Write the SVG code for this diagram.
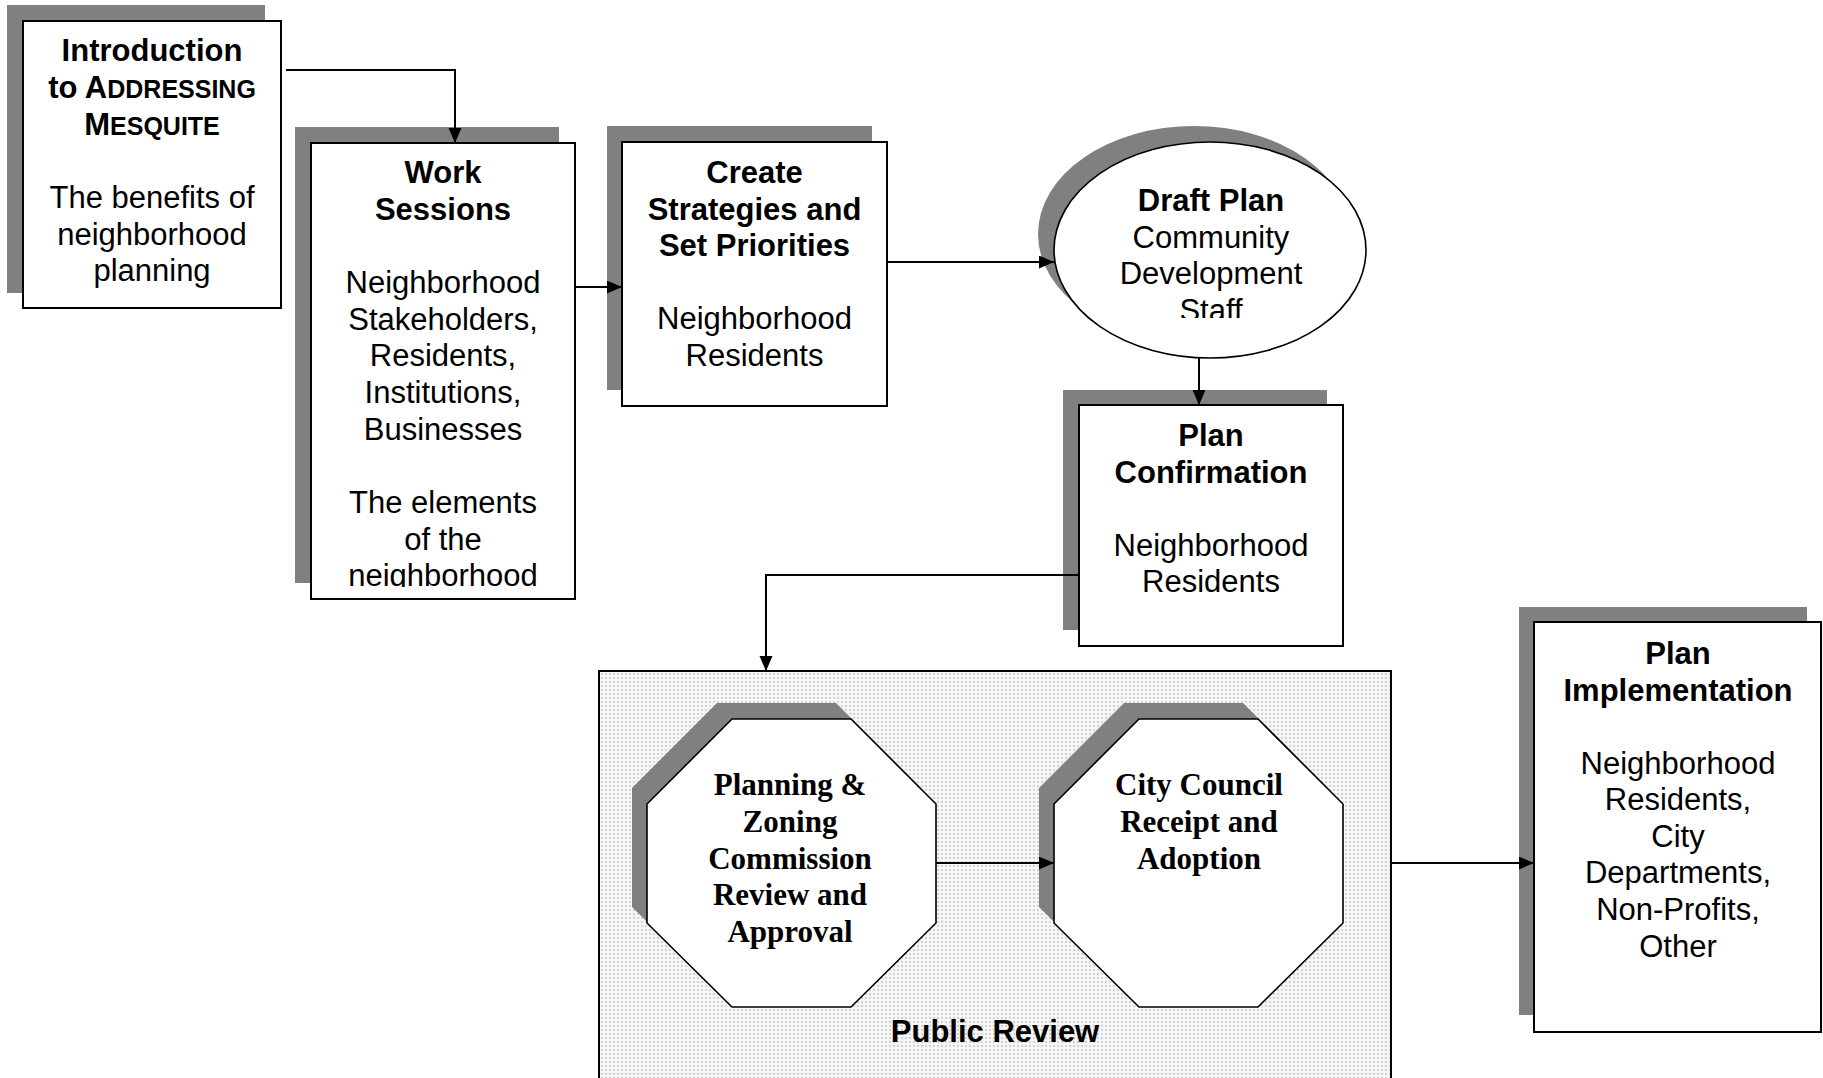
<svg xmlns="http://www.w3.org/2000/svg" width="1823" height="1078" viewBox="0 0 1823 1078">
<style>
.sh{fill:#808080;stroke:none}
.bx{fill:#fff;stroke:#000;stroke-width:2}
.el{fill:#fff;stroke:#000;stroke-width:1.6}
.t{font-family:"Liberation Sans",Arial,sans-serif;font-size:31px;text-anchor:middle;fill:#000}
.b{font-weight:bold}
.sm{font-size:25px}
.s{font-family:"Liberation Serif","Times New Roman",serif;font-weight:bold;font-size:31px;text-anchor:middle;fill:#000}
.c{fill:none;stroke:#000;stroke-width:2}
</style>
<defs>
<marker id="ah" markerUnits="userSpaceOnUse" markerWidth="16" markerHeight="14" refX="15" refY="6.5" orient="auto">
<path d="M0,0 L15,6.5 L0,13 z" fill="#000"/>
</marker>
<pattern id="dots" width="4" height="4" patternUnits="userSpaceOnUse">
<rect width="4" height="4" fill="#f6f6f6"/>
<rect x="1" y="1" width="2" height="2" fill="#d2d2d2"/>
</pattern>
<clipPath id="cpWork"><rect x="311" y="143" width="264" height="444"/></clipPath>
<clipPath id="cpDraft"><rect x="1040" y="140" width="340" height="178"/></clipPath>
</defs>

<g id="public-review">
<rect x="599" y="671" width="792" height="500" fill="url(#dots)" stroke="#000" stroke-width="2"/>
<text class="t b" x="995" y="1042">Public Review</text>
</g>

<g id="intro">
<rect class="sh" x="7" y="5" width="258" height="288"/>
<rect class="bx" x="23" y="21" width="258" height="287"/>
<text class="t b" x="152" y="61">Introduction</text>
<text class="t b" x="152" y="98">to A<tspan class="sm">DDRESSING</tspan></text>
<text class="t b" x="152" y="135">M<tspan class="sm">ESQUITE</tspan></text>
<text class="t" x="152" y="208">The benefits of</text>
<text class="t" x="152" y="245">neighborhood</text>
<text class="t" x="152" y="281">planning</text>
</g>

<g id="work-sessions">
<rect class="sh" x="295" y="127" width="264" height="456"/>
<rect class="bx" x="311" y="143" width="264" height="456"/>
<g clip-path="url(#cpWork)">
<text class="t b" x="443" y="183">Work</text>
<text class="t b" x="443" y="219.5">Sessions</text>
<text class="t" x="443" y="293">Neighborhood</text>
<text class="t" x="443" y="329.5">Stakeholders,</text>
<text class="t" x="443" y="366">Residents,</text>
<text class="t" x="443" y="403">Institutions,</text>
<text class="t" x="443" y="439.5">Businesses</text>
<text class="t" x="443" y="513">The elements</text>
<text class="t" x="443" y="549.5">of the</text>
<text class="t" x="443" y="586">neighborhood</text>
</g>
</g>

<g id="create-strategies">
<rect class="sh" x="607" y="126" width="265" height="264"/>
<rect class="bx" x="622" y="142" width="265" height="264"/>
<text class="t b" x="754.5" y="183">Create</text>
<text class="t b" x="754.5" y="219.5">Strategies and</text>
<text class="t b" x="754.5" y="256">Set Priorities</text>
<text class="t" x="754.5" y="329">Neighborhood</text>
<text class="t" x="754.5" y="365.5">Residents</text>
</g>

<g id="draft-plan">
<ellipse class="sh" cx="1194" cy="234" rx="156" ry="108"/>
<ellipse class="el" cx="1210" cy="250" rx="156" ry="108"/>
<g clip-path="url(#cpDraft)">
<text class="t b" x="1211" y="211">Draft Plan</text>
<text class="t" x="1211" y="247.5">Community</text>
<text class="t" x="1211" y="284">Development</text>
<text class="t" x="1211" y="321">Staff</text>
</g>
</g>

<g id="plan-confirmation">
<rect class="sh" x="1063" y="390" width="264" height="240"/>
<rect class="bx" x="1079" y="405" width="264" height="241"/>
<text class="t b" x="1211" y="446">Plan</text>
<text class="t b" x="1211" y="482.5">Confirmation</text>
<text class="t" x="1211" y="555.5">Neighborhood</text>
<text class="t" x="1211" y="592">Residents</text>
</g>

<g id="planning-zoning">
<polygon class="sh" points="717,703 836,703 921,788 921,907 836,991 717,991 632,907 632,788"/>
<polygon class="el" points="732,719 851,719 936,804 936,923 851,1007 732,1007 647,923 647,804"/>
<text class="s" x="790" y="795">Planning &amp;</text>
<text class="s" x="790" y="832">Zoning</text>
<text class="s" x="790" y="869">Commission</text>
<text class="s" x="790" y="905">Review and</text>
<text class="s" x="790" y="942">Approval</text>
</g>

<g id="city-council">
<polygon class="sh" points="1124,703 1243,703 1328,788 1328,907 1243,991 1124,991 1039,907 1039,788"/>
<polygon class="el" points="1139,719 1258,719 1343,804 1343,923 1258,1007 1139,1007 1054,923 1054,804"/>
<text class="s" x="1199" y="795">City Council</text>
<text class="s" x="1199" y="832">Receipt and</text>
<text class="s" x="1199" y="869">Adoption</text>
</g>

<g id="plan-implementation">
<rect class="sh" x="1519" y="607" width="288" height="408"/>
<rect class="bx" x="1534" y="622" width="287" height="410"/>
<text class="t b" x="1678" y="664">Plan</text>
<text class="t b" x="1678" y="700.5">Implementation</text>
<text class="t" x="1678" y="773.5">Neighborhood</text>
<text class="t" x="1678" y="810">Residents,</text>
<text class="t" x="1678" y="846.5">City</text>
<text class="t" x="1678" y="883">Departments,</text>
<text class="t" x="1678" y="920">Non-Profits,</text>
<text class="t" x="1678" y="956.5">Other</text>
</g>

<g id="connectors">
<path class="c" d="M286,70 H455 V143" marker-end="url(#ah)"/>
<path class="c" d="M575,287 H622" marker-end="url(#ah)"/>
<path class="c" d="M887,262 H1054" marker-end="url(#ah)"/>
<path class="c" d="M1199,358 V405" marker-end="url(#ah)"/>
<path class="c" d="M1079,575 H766 V671" marker-end="url(#ah)"/>
<path class="c" d="M936,863 H1054" marker-end="url(#ah)"/>
<path class="c" d="M1391,863 H1534" marker-end="url(#ah)"/>
</g>
</svg>
